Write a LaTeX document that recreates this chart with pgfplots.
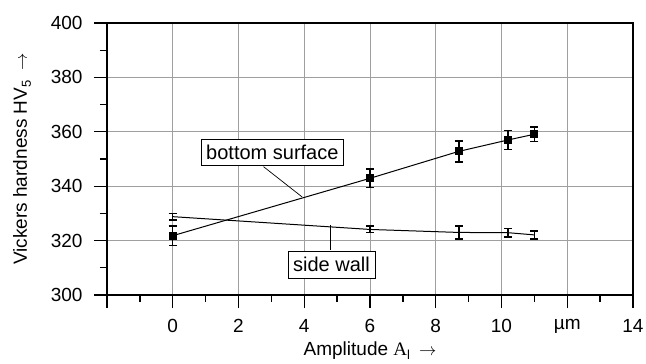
\documentclass[border=0pt]{standalone}
\usepackage{pgfplots}
\pgfplotsset{compat=1.18}
\usepackage{fontspec}
\setmainfont{Liberation Sans}
\newfontfamily\seriffont{Liberation Serif}
\begin{document}
\fontsize{19}{22}\selectfont
\begin{tikzpicture}
\begin{axis}[
  scale only axis, width=526pt, height=272pt,
  xmin=-2, xmax=14, ymin=300, ymax=400,
  xtick={-2,0,...,14}, xticklabels={,0,2,4,6,8,10,\raisebox{3pt}{µm},14},
  minor x tick num=1,
  ytick={300,320,...,400}, minor y tick num=1,
  grid=major, major grid style={gray!75, line width=0.7pt},
  axis line style={line width=1.3pt},
  tick style={black, line width=1.3pt},
  tick align=outside, tick pos=left,
  major tick length=13pt, minor tick length=7pt,
  /pgf/number format/assume math mode=true,
  ticklabel style={font=\fontsize{19}{22}\selectfont},
  yticklabel style={xshift=-5pt},
  xticklabel style={yshift=-5pt},
  label style={font=\fontsize{19}{22}\selectfont},
  xlabel={Amplitude {\seriffont A}\raisebox{-4pt}{\fontsize{13}{14}\selectfont l}\hspace{9pt}$\rightarrow$},
  ylabel={Vickers hardness HV\raisebox{-4pt}{\fontsize{13}{14}\selectfont 5}\hspace{10pt}$\rightarrow$},
  xlabel style={yshift=5pt},
  ylabel style={yshift=7pt},
  clip=false,
]
\coordinate (bl) at (rel axis cs:0,0);
\addplot[black, line width=1pt, mark=square*, mark size=3.4pt,
  error bars/.cd, y dir=both, y explicit,
  error bar style={line width=1.5pt},
  error mark options={rotate=90, mark size=4pt, line width=1.5pt}]
  coordinates {
  (0,321.8) +- (0,3.6)
  (6,342.9) +- (0,3.4)
  (8.7,352.8) +- (0,3.9)
  (10.2,357.0) +- (0,3.5)
  (11,359.1) +- (0,2.7)
};
\addplot[black, line width=1pt, mark=none,
  error bars/.cd, y dir=both, y explicit,
  error bar style={line width=1.5pt},
  error mark options={rotate=90, mark size=4pt, line width=1.5pt}]
  coordinates {
  (0,328.8) +- (0,1.2)
  (6,324.1) +- (0,1.2)
  (8.7,323.0) +- (0,2.4)
  (10.2,322.9) +- (0,1.6)
  (11,322.1) +- (0,1.5)
};
\draw[line width=0.7pt] (axis cs:2.76,347.2) -- (axis cs:3.94,336.0);
\node[draw=black, line width=0.7pt, fill=white, inner xsep=5pt, inner ysep=6pt, font=\fontsize{20}{22}\selectfont] at (axis cs:3.03,352.4) {bottom surface};
\draw[line width=1.3pt] (axis cs:4.79,325.7) -- (axis cs:4.79,316.5);
\node[draw=black, line width=0.7pt, fill=white, inner xsep=5pt, inner ysep=6pt, font=\fontsize{20}{22}\selectfont] at (axis cs:4.83,311.2) {side wall};
\end{axis}
\pgfresetboundingbox
\path (bl) ++(-107pt,-69pt) rectangle ++(646pt,364pt);
\end{tikzpicture}
\end{document}
